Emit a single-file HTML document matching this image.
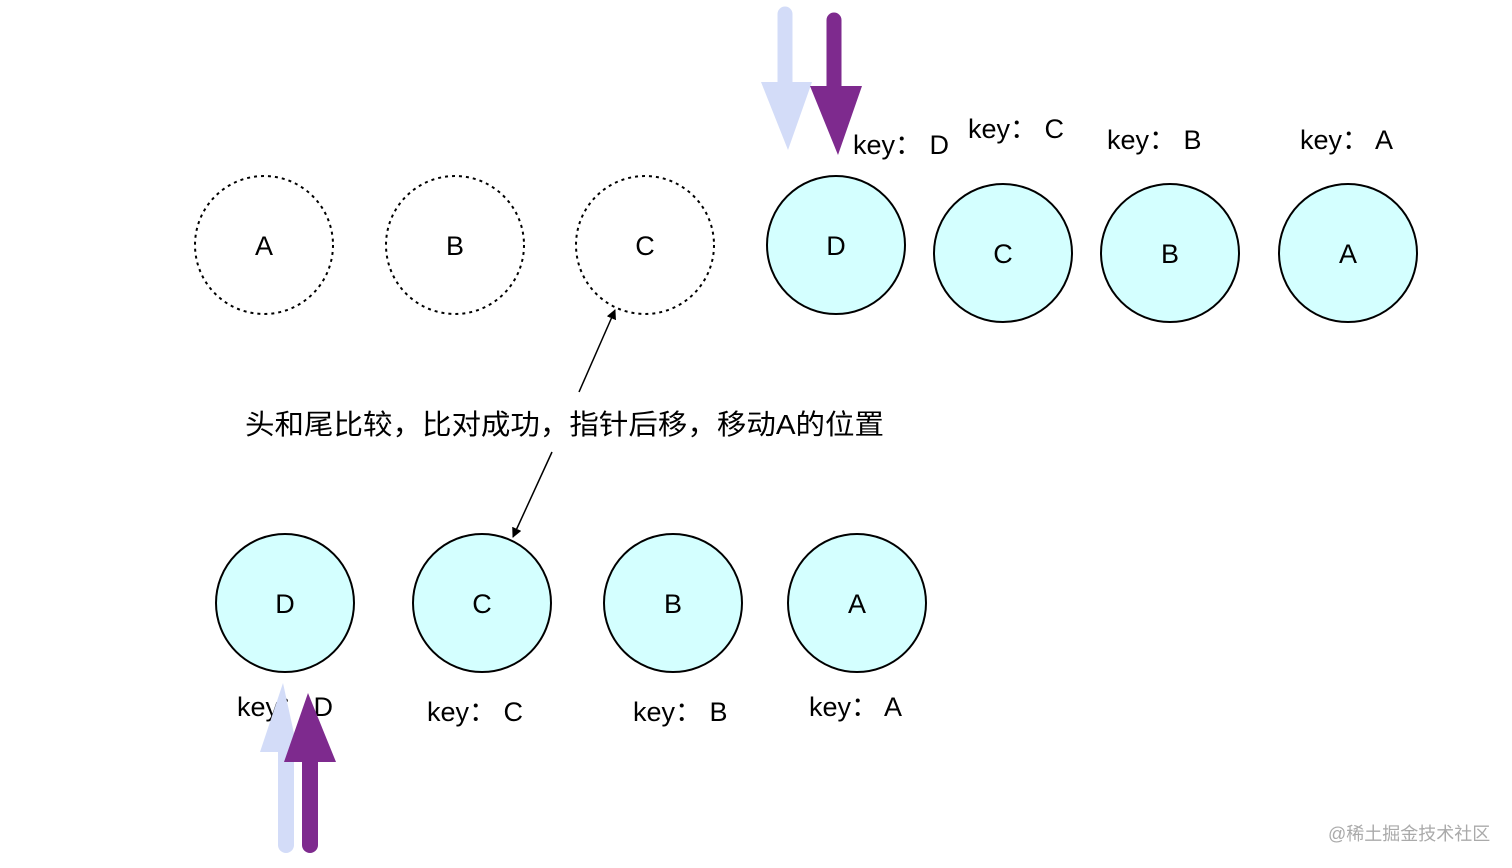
<!DOCTYPE html>
<html><head><meta charset="utf-8"><style>
html,body{margin:0;padding:0;background:#fff;width:1512px;height:868px;overflow:hidden}
svg{display:block}
text{font-family:"Liberation Sans","Noto Sans CJK SC",sans-serif;fill:#000}
</style></head><body>
<svg width="1512" height="868" viewBox="0 0 1512 868" xmlns="http://www.w3.org/2000/svg">
<defs><marker id="ah" markerWidth="10" markerHeight="10" refX="9" refY="5" orient="auto" markerUnits="userSpaceOnUse"><path d="M0,0 L10,5 L0,10 Z" fill="#000"/></marker></defs>
<g fill="#fff" stroke="#000" stroke-width="2" stroke-dasharray="3,4">
<circle cx="264" cy="245" r="69"/><circle cx="455" cy="245" r="69"/><circle cx="645" cy="245" r="69"/>
</g>
<g fill="#d4ffff" stroke="#000" stroke-width="2">
<circle cx="836" cy="245" r="69"/><circle cx="1003" cy="253" r="69"/><circle cx="1170" cy="253" r="69"/><circle cx="1348" cy="253" r="69"/>
<circle cx="285" cy="603" r="69"/><circle cx="482" cy="603" r="69"/><circle cx="673" cy="603" r="69"/><circle cx="857" cy="603" r="69"/>
</g>
<g font-size="27" text-anchor="middle">
<text x="264" y="255">A</text><text x="455" y="255">B</text><text x="645" y="255">C</text>
<text x="836" y="255">D</text><text x="1003" y="263">C</text><text x="1170" y="263">B</text><text x="1348" y="263">A</text>
<text x="285" y="613">D</text><text x="482" y="613">C</text><text x="673" y="613">B</text><text x="857" y="613">A</text>
</g>
<g font-size="27">
<text x="853" y="154">key： D</text><text x="968" y="138">key： C</text><text x="1107" y="149">key： B</text><text x="1300" y="149">key： A</text>
<text x="237" y="716">key： D</text><text x="427" y="721">key： C</text><text x="633" y="721">key： B</text><text x="809" y="716">key： A</text>
</g>
<text x="245" y="434" font-size="28" textLength="639" lengthAdjust="spacingAndGlyphs">头和尾比较，比对成功，指针后移，移动A的位置</text>
<line x1="579" y1="392" x2="615" y2="310" stroke="#000" stroke-width="1.5" marker-end="url(#ah)"/>
<line x1="552" y1="452" x2="513" y2="537" stroke="#000" stroke-width="1.5" marker-end="url(#ah)"/>
<!-- top arrows -->
<line x1="785" y1="14" x2="785" y2="90" stroke="#d3dcf8" stroke-width="15" stroke-linecap="round"/>
<polygon points="761,82 812,82 788,150" fill="#d3dcf8"/>
<line x1="834" y1="20" x2="834" y2="92" stroke="#7e2a8e" stroke-width="15" stroke-linecap="round"/>
<polygon points="810,86 862,86 838,155" fill="#7e2a8e"/>
<!-- bottom arrows -->
<line x1="286" y1="745" x2="286" y2="845" stroke="#d3dcf8" stroke-width="16" stroke-linecap="round"/>
<polygon points="260,752 298,752 283,683" fill="#d3dcf8"/>
<line x1="310" y1="755" x2="310" y2="845" stroke="#7e2a8e" stroke-width="16" stroke-linecap="round"/>
<polygon points="284,762 336,762 308,693" fill="#7e2a8e"/>
<text x="1328" y="840" font-size="18" style="fill:#aaa">@稀土掘金技术社区</text>
</svg>
</body></html>
